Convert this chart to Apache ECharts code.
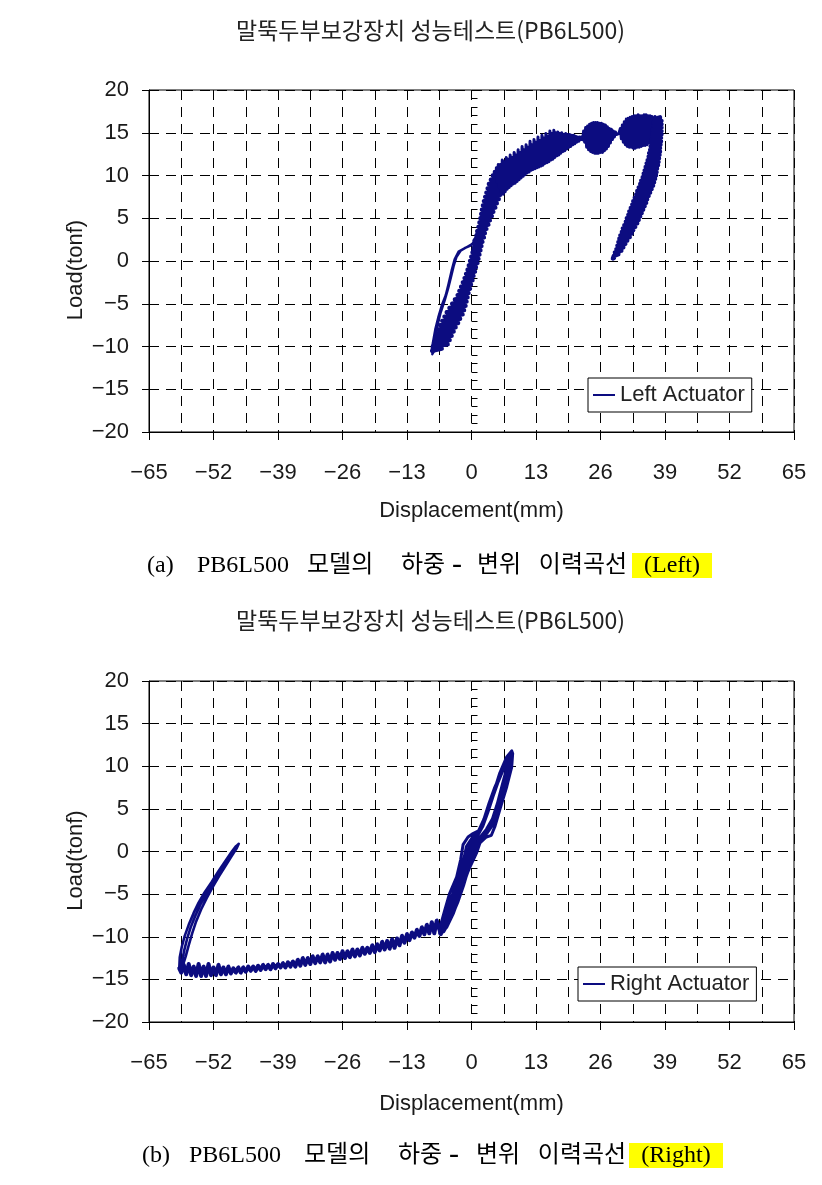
<!DOCTYPE html>
<html><head><meta charset="utf-8">
<script src="https://cdn.jsdelivr.net/npm/echarts@6/dist/echarts.min.js"></script>
<style>html,body{margin:0;padding:0;background:#fff}#c{width:822px;height:1185px}</style>
</head><body><div id="c"></div>
<script>
// ---- axis ticks ----
const dispTicks = [-65,-52,-39,-26,-13,0,13,26,39,52,65];
const loadTicks = [-20,-15,-10,-5,0,5,10,15,20];
const chartTitle = '말뚝두부보강장치 성능테스트(PB6L500)';
const dispName = 'Displacement(mm)';
const loadName = 'Load(tonf)';
const leftName = 'Left Actuator';
const rightName = 'Right Actuator';

// ---- Left actuator: [displacement mm, load tonf] ----
const leftLoopPaths = [
[0.0,0.0],[-0.8,-1.8],[-1.8,-3.8],[-3.3,-5.9],[-5.0,-7.9],[-6.6,-9.6],[-7.8,-10.7],
[-8.0,-10.3],[-7.7,-9.3],[-7.3,-8.0],[-6.7,-6.6],[-6.0,-5.2],[-5.2,-4.0],[-4.6,-2.6],[-4.0,-1.1],[-3.4,0.2],[-2.6,1.1],[-1.4,1.5],[-0.2,1.8],[0.8,2.4],[1.4,3.4],[1.8,4.2],
[1.2,2.6],[0.6,1.4],[0.0,0.2],[-1.0,-1.6],[-2.2,-3.6],[-3.8,-5.6],[-5.6,-7.8],[-7.0,-9.6],[-7.9,-10.8],
[-7.6,-10.0],[-7.3,-8.8],[-6.8,-7.4],[-6.2,-6.0],[-5.4,-4.6],[-4.7,-3.2],[-4.1,-1.8],[-3.6,-0.6],[-3.0,0.5],[-2.2,1.2],[-1.0,1.6],[0.2,2.0],[0.9,2.8],[1.2,3.6],
[0.6,2.2],[0.1,1.0],[0.8,1.2],[1.7,2.3],[1.0,2.9],[0.4,2.4],
[1.2,2.0],[0.2,-0.2],[-0.8,-2.2],[-2.2,-4.4],[-4.0,-6.6],[-5.8,-8.6],[-7.2,-10.2],[-7.9,-10.9]
];
const leftLowerBand = [
[-7.95,-10.5],[-6.0,-10.25],[-7.8,-10.0],[-4.8,-9.75],[-7.55,-9.5],[-4.4,-9.25],[-7.3,-9.0],[-4.0,-8.75],[-7.05,-8.5],[-3.6,-8.25],[-6.8,-8.0],[-3.2,-7.75],[-6.35,-7.5],[-2.7,-7.25],[-5.9,-7.0],[-2.3,-6.75],[-5.45,-6.5],[-1.8,-6.25],[-5.0,-6.0],[-1.5,-5.75],[-4.45,-5.5],[-1.2,-5.25],[-3.9,-5.0],[-1.0,-4.75],[-3.35,-4.5],[-0.8,-4.25],[-2.8,-4.0],[-0.6,-3.75],[-2.45,-3.5],[-0.3,-3.25],[-2.1,-3.0],[-0.1,-2.75],[-1.75,-2.5],[0.2,-2.25],[-1.4,-2.0],[0.4,-1.75],[-1.1,-1.5],[0.7,-1.25],[-0.8,-1.0],[0.9,-0.75],[-0.55,-0.5],[1.2,-0.25],[-0.3,0.0],[1.4,0.25],[-0.05,0.5],[1.6,0.75],[0.2,1.0],[1.8,1.25],[0.45,1.5],[2.0,1.75],[0.7,2.0],[2.2,2.25],[0.85,2.5],[2.5,2.75],[1.0,3.0],[2.7,3.25],[1.15,3.5],[3.0,3.75]
];
const leftRisingBand = [
[1.4,4.0],[3.4,4.25],[1.6,4.5],[3.7,4.75],[1.8,5.0],[4.1,5.25],[1.95,5.5],[4.4,5.75],[2.1,6.0],[4.8,6.25],[2.3,6.5],[5.1,6.75],[2.5,7.0],[5.5,7.25],[2.75,7.5],[5.8,7.75],[3.0,8.0],[6.2,8.25],[3.25,8.5],[6.5,8.75],[3.5,9.0],[6.8,9.25],[3.9,9.5],[7.2,9.75],[4.3,10.0],[7.6,10.25],[4.7,10.4]
];
const leftUpperBand = [
[5.0,10.9],[5.2,9.2],[5.4,11.3],[5.6,8.6],[5.8,11.3],[6.0,8.0],[6.2,11.8],[6.4,7.8],[6.6,11.6],[6.8,8.1],[7.0,12.1],[7.2,8.4],[7.4,11.9],[7.6,8.6],[7.8,12.4],[8.0,8.8],[8.2,12.1],[8.4,9.0],[8.6,12.7],[8.8,9.1],[9.0,12.4],[9.2,9.3],[9.4,13.0],[9.6,9.5],[9.8,12.7],[10.0,9.7],[10.2,13.4],[10.4,9.9],[10.6,13.0],[10.8,10.1],[11.0,13.6],[11.2,10.3],[11.4,13.3],[11.6,10.4],[11.8,14.0],[12.0,10.6],[12.2,13.6],[12.4,10.7],[12.6,14.2],[12.8,10.8],[13.0,13.9],[13.2,10.9],[13.4,14.5],[13.6,11.0],[13.8,14.1],[14.0,11.1],[14.2,14.7],[14.4,11.2],[14.6,14.4],[14.8,11.4],[15.0,14.9],[15.2,11.5],[15.4,14.6],[15.6,11.6],[15.8,15.2],[16.0,11.8],[16.2,14.9],[16.4,11.9],[16.6,15.3],[16.8,12.1],[17.0,15.0],[17.2,12.3],[17.4,15.1],[17.6,12.4],[17.8,14.9],[18.0,12.6],[18.2,15.0],[18.4,12.8],[18.6,14.8],[18.8,12.9],[19.0,14.9],[19.2,13.1],[19.4,14.8],[19.6,13.3],[19.8,14.8],[20.0,13.4],[20.2,14.7],[20.4,13.6],[20.6,14.7],[20.8,13.7],[21.0,14.6],[21.2,13.9],[21.4,14.5],[21.6,14.0],[21.8,14.5],[22.0,14.2],[22.2,14.5],[22.4,14.2]
];
const leftPeakBlobs = [
[22.6,15.2],[22.8,13.9],[23.0,15.6],[23.2,13.3],[23.4,15.8],[23.6,13.0],[23.8,16.0],[24.0,12.8],[24.2,16.1],[24.4,12.7],[24.6,16.2],[24.8,12.6],[25.0,16.2],[25.2,12.6],[25.4,16.2],[25.6,12.6],[25.8,16.1],[26.0,12.7],[26.2,16.1],[26.4,12.7],[26.6,16.0],[26.8,12.9],[27.0,15.9],[27.2,13.1],[27.4,15.7],[27.6,13.4],[27.8,15.5],[28.0,13.8],[28.2,15.4],[28.4,14.2],[28.6,15.2],[28.8,14.5],[29.0,15.1],[29.2,14.8],[29.5,15.0],[29.7,14.9],
[30.0,15.5],[30.2,14.3],[30.4,15.9],[30.6,13.9],[30.8,16.3],[31.0,13.6],[31.2,16.6],[31.4,13.4],[31.6,16.7],[31.8,13.3],[32.0,16.8],[32.2,13.3],[32.4,16.9],[32.6,13.2],[32.8,17.0],[33.0,13.2],[33.2,17.0],[33.4,13.3],[33.6,17.1],[33.8,13.3],[34.0,17.0],[34.2,13.4],[34.4,17.0],[34.6,13.5],[34.8,17.1],[35.0,13.5],[35.2,17.1],[35.4,13.6],[35.6,17.0],[35.8,13.8],[36.0,17.0],[36.2,14.0],[36.4,16.9],[36.6,14.4],[37.0,16.9]
];
const leftUnloadBand = [
[38.0,16.8],[36.8,16.6],[38.3,16.4],[36.7,16.2],[38.3,16.0],[36.6,15.8],[38.3,15.6],[36.5,15.4],[38.3,15.2],[36.5,15.0],[38.3,14.8],[36.4,14.6],[38.2,14.4],[36.3,14.2],[38.2,14.0],[36.2,13.8],[38.1,13.6],[36.1,13.4],[38.0,13.2],[36.0,13.0],[38.0,12.8],[35.8,12.6],[37.9,12.4],[35.7,12.2],[37.8,12.0],[35.5,11.8],[37.7,11.6],[35.3,11.4],[37.6,11.2],[35.1,11.0],[37.4,10.8],[34.9,10.6],[37.3,10.4],[34.7,10.2],[37.2,10.0],[34.5,9.8],[37.0,9.6],[34.2,9.4],[36.8,9.2],[34.0,9.0],[36.6,8.8],[33.7,8.6],[36.3,8.4],[33.4,8.2],[36.0,8.0],[33.2,7.8],[35.7,7.6],[32.9,7.4],[35.4,7.2],[32.6,7.0],[35.2,6.8],[32.4,6.6],[34.9,6.4],[32.1,6.2],[34.6,6.0],[31.8,5.8],[34.3,5.6],[31.6,5.4],[34.0,5.2],[31.3,5.0],[33.7,4.8],[31.1,4.6],[33.4,4.4],[30.8,4.2],[33.0,4.0],[30.5,3.8],[32.6,3.6],[30.3,3.4],[32.3,3.2],[30.0,3.0],[31.9,2.8],[29.8,2.6],[31.4,2.4],[29.6,2.2],[31.0,2.0],[29.4,1.8],[30.6,1.6],[29.2,1.4],[30.2,1.2],[28.9,1.0],[29.6,0.8],[28.7,0.6],[29.0,0.4],[28.5,0.3],[28.7,0.35]
];

// ---- Right actuator ----
const rightLoopPaths = [
[-6.1,-9.6],[-5.4,-9.2],[-4.0,-7.6],[-2.7,-5.7],[-1.4,-3.3],[-0.3,-1.8],[1.0,-0.2],[1.7,1.0],[3.0,1.7],[4.0,1.9],[4.7,2.9],[5.7,4.9],[7.1,7.6],[8.1,9.9],[8.3,11.5],[8.1,11.8],
[7.1,11.1],[5.7,9.2],[4.4,6.8],[3.0,4.5],[1.7,2.5],[0.3,2.1],[-0.7,1.7],[-1.7,0.8],[-2.2,-1.0],[-3.0,-3.0],[-4.4,-4.9],[-5.4,-6.9],[-6.3,-8.8],[-6.4,-9.6],
[-6.0,-9.4],[-5.0,-7.0],[-3.8,-5.0],[-2.5,-3.0],[-1.6,-1.0],[-1.0,0.6],[0.0,1.5],[1.4,2.4],[2.5,3.8],[3.5,5.6],[4.6,7.4],[5.8,9.0],[7.0,10.6],[7.9,11.6],
[7.9,11.0],[7.5,9.6],[6.6,7.4],[5.4,5.0],[4.4,3.2],[3.2,2.2],[2.0,1.4],[1.0,0.4],[0.0,-1.2],[-1.1,-3.0],[-2.2,-5.0],[-3.5,-7.0],[-5.0,-8.8],[-6.0,-9.5],
[-5.6,-9.0],[-4.6,-7.0],[-3.4,-5.0],[-2.2,-3.0],[-1.2,-1.0],[-0.4,0.5],[0.6,1.6],[1.8,2.6],[2.9,4.1],[3.9,5.9],[5.0,7.7],[6.2,9.3],[7.3,10.8],[8.0,11.7],
[7.6,10.6],[6.8,8.4],[5.8,6.2],[4.9,4.2],[3.9,2.8],[2.6,2.0],[1.4,1.1],[0.4,-0.3],[-0.6,-2.0],[-1.6,-4.0],[-2.8,-6.0],[-4.2,-7.9],[-5.6,-9.4],
[-5.2,-9.0],[-4.2,-7.2],[-3.0,-5.2],[-1.8,-3.0],[-0.8,-1.0],[0.2,0.6],[1.2,1.8],[2.3,3.0],[3.3,4.6],[4.3,6.4],[5.4,8.2],[6.6,9.9],[7.6,11.3],
[7.3,10.2],[6.2,7.8],[5.2,5.6],[4.2,3.8],[3.0,2.6],[1.6,1.6],[0.6,0.4],[-0.3,-1.2],[-1.3,-3.2],[-2.4,-5.2],[-3.6,-7.2],[-5.0,-8.9],[-6.2,-9.7]
];
const rightBottomBand = [
[-6.2,-9.7],[-7.0,-8.1],[-7.5,-9.6],[-8.0,-8.3],[-8.5,-9.6],[-9.0,-8.6],[-9.5,-9.7],[-10.0,-8.9],[-10.5,-9.9],[-11.0,-9.2],[-11.5,-10.1],[-12.0,-9.5],[-12.5,-10.4],[-13.0,-9.7],[-13.5,-10.7],[-14.0,-9.9],[-14.5,-11.0],[-15.0,-10.2],[-15.5,-11.3],[-16.0,-10.3],[-16.5,-11.4],[-17.0,-10.5],[-17.5,-11.5],[-18.0,-10.6],[-18.5,-11.6],[-19.0,-10.9],[-19.5,-11.8],[-20.0,-11.0],[-20.5,-11.9],[-21.0,-11.3],[-21.5,-12.0],[-22.0,-11.3],[-22.5,-12.2],[-23.0,-11.5],[-23.5,-12.3],[-24.0,-11.5],[-24.5,-12.4],[-25.0,-11.7],[-25.5,-12.5],[-26.0,-11.7],[-26.5,-12.6],[-27.0,-11.9],[-27.5,-12.7],[-28.0,-11.9],[-28.5,-12.9],[-29.0,-12.1],[-29.5,-13.0],[-30.0,-12.1],[-30.5,-13.0],[-31.0,-12.3],[-31.5,-13.1],[-32.0,-12.3],[-32.5,-13.2],[-33.0,-12.5],[-33.5,-13.3],[-34.0,-12.5],[-34.5,-13.4],[-35.0,-12.7],[-35.5,-13.5],[-36.0,-12.9],[-36.5,-13.5],[-37.0,-13.0],[-37.5,-13.6],[-38.0,-13.1],[-38.5,-13.6],[-39.0,-13.2],[-39.5,-13.7],[-40.0,-13.2],[-40.5,-13.8],[-41.0,-13.3],[-41.5,-13.8],[-42.0,-13.3],[-42.5,-13.9],[-43.0,-13.4],[-43.5,-14.0],[-44.0,-13.5],[-44.5,-14.0],[-45.0,-13.5],[-45.5,-14.1],[-46.0,-13.6],[-46.5,-14.2],[-47.0,-13.6],[-47.5,-14.2],[-48.0,-13.7],[-48.5,-14.3],[-49.0,-13.5],[-49.5,-14.4],[-50.0,-13.6],[-50.5,-14.4],[-51.0,-13.3],[-51.5,-14.5],[-52.0,-13.6],[-52.5,-14.5],[-53.0,-13.2],[-53.5,-14.6],[-54.0,-13.5],[-54.5,-14.6],[-55.0,-13.2],[-55.5,-14.6],[-56.0,-13.5],[-56.5,-14.5],[-57.0,-13.2],[-57.5,-14.4],[-58.0,-13.3],[-58.5,-14.2],[-58.9,-13.7]
];
const rightRisingLine = [
[-58.9,-13.7],[-58.8,-12.4],[-58.4,-11.2],[-57.8,-9.9],[-57.0,-8.6],[-56.0,-7.2],[-55.0,-6.0],[-53.8,-4.8],[-52.4,-3.6],[-51.0,-2.3],[-49.6,-1.1],[-48.3,0.0],[-47.5,0.6],[-47.0,0.8],
[-47.3,0.4],[-48.4,-0.6],[-49.6,-1.7],[-50.9,-2.9],[-52.2,-4.2],[-53.4,-5.5],[-54.5,-6.8],[-55.5,-8.2],[-56.3,-9.6],[-57.0,-11.0],[-57.6,-12.3],[-58.2,-13.4],[-58.6,-14.0],
[-58.4,-13.0],[-57.9,-11.6],[-57.3,-10.2],[-56.6,-8.9],[-55.7,-7.6],[-54.7,-6.3],[-53.6,-5.1],[-52.3,-3.9],[-51.0,-2.6],[-49.6,-1.4],[-48.4,-0.3],[-47.6,0.5],[-47.1,0.8],[-46.9,0.9]
];

const leftRiseData = [].concat(leftLowerBand, leftRisingBand);
const leftTopData = [].concat(leftUpperBand, leftPeakBlobs);

// ---- styling ----
const NAVY = '#0c0c80';
const INK = '#1a1a1a';
const SANS = "'Liberation Sans', Arial, sans-serif";
const KOR = "'Noto Sans CJK KR', sans-serif";
const SERIF = "'Liberation Serif', 'Noto Sans CJK KR', serif";
const dash = [10, 7];
const fmt = v => (v < 0 ? '\u2212' + Math.abs(v) : String(v));

function xAxisFor(gi, gap) {
  return {
    type: 'value', gridIndex: gi,
    min: dispTicks[0], max: dispTicks[dispTicks.length - 1], interval: dispTicks[1] - dispTicks[0],
    name: dispName, nameLocation: 'middle', nameGap: gap, nameMoveOverlap: false,
    nameTextStyle: { fontFamily: SANS, fontSize: 22, color: INK },
    axisLine: { show: true, onZero: false, lineStyle: { color: '#000', width: 1 } },
    axisTick: { show: true, inside: false, length: 8, lineStyle: { color: '#000' } },
    axisLabel: { show: true, margin: 30, fontFamily: SANS, fontSize: 22, color: INK, formatter: fmt },
    splitLine: { show: true, lineStyle: { color: '#000', width: 1, type: dash } },
    minorTick: { show: false, splitNumber: 2 },
    minorSplitLine: { show: true, lineStyle: { color: '#000', width: 1, type: dash } }
  };
}
function yAxesFor(gi) {
  return [{
    type: 'value', gridIndex: gi, position: 'left',
    min: loadTicks[0], max: loadTicks[loadTicks.length - 1], interval: loadTicks[1] - loadTicks[0],
    name: loadName, nameLocation: 'middle', nameGap: 62, nameMoveOverlap: false,
    nameTextStyle: { fontFamily: SANS, fontSize: 22, color: INK, padding: [0, 18, 0, 0] },
    axisLine: { show: true, onZero: false, lineStyle: { color: '#000', width: 1 } },
    axisTick: { show: true, inside: false, length: 7, lineStyle: { color: '#000' } },
    axisLabel: { show: true, margin: 20, fontFamily: SANS, fontSize: 22, color: INK, formatter: fmt },
    splitLine: { show: true, lineStyle: { color: '#000', width: 1, type: dash } }
  }, {
    type: 'value', gridIndex: gi, position: 'left', offset: 0,
    min: loadTicks[0], max: loadTicks[loadTicks.length - 1], interval: 1,
    axisLine: { show: false }, axisLabel: { show: false }, splitLine: { show: false },
    axisTick: { show: true, inside: true, length: 6, lineStyle: { color: '#000' } }
  }];
}
function captionRich(w) {
  const base = { fontFamily: SERIF, fontSize: 24, fontWeight: 'normal', color: '#000', lineHeight: 25, height: 25, align: 'left' };
  const keys = ['s1','s2','s3','s4','s5','s6','s7','hl'];
  const r = {};
  keys.forEach((k, i) => { r[k] = Object.assign({}, base, { width: w[i] }); });
  r.s5.align = 'center';
  r.s5.fontSize = 30;
  r.hl.align = 'center';
  r.hl.backgroundColor = '#ffff00';
  return r;
}
function legendFor(name, left, top) {
  return {
    data: [name], left: left, top: top, orient: 'horizontal',
    backgroundColor: '#fff', borderColor: '#000', borderWidth: 1, borderRadius: 0,
    padding: [6, 7, 6, 5], itemWidth: 22, itemHeight: 2, icon: 'rect',
    textStyle: { fontFamily: SANS, fontSize: 22, color: '#222' },
    selectedMode: false
  };
}
function lineSeries(name, xi, yi, data, w) {
  return { name: name, type: 'line', xAxisIndex: xi, yAxisIndex: yi, data: data, showSymbol: false, symbol: 'none',
    lineStyle: { color: NAVY, width: w, join: 'round', cap: 'round' }, itemStyle: { color: NAVY }, clip: true, z: 3 };
}

const chart = echarts.init(document.getElementById('c'), null, { renderer: 'canvas' });
chart.setOption({
  animation: false,
  backgroundColor: '#fff',
  title: [
    { text: chartTitle, left: 236, top: 19, padding: 0, textStyle: { fontFamily: KOR, fontSize: 23, fontWeight: 'normal', color: '#222' } },
    { text: chartTitle, left: 236, top: 609, padding: 0, textStyle: { fontFamily: KOR, fontSize: 23, fontWeight: 'normal', color: '#222' } },
    { text: '{s1|(a)}{s2|PB6L500}{s3|모델의}{s4|하중}{s5|-}{s6|변위}{s7|이력곡선}{hl|(Left)}', left: 147, top: 553, padding: 0,
      textStyle: { fontWeight: 'normal', rich: captionRich([50, 110, 94, 49, 14, 70, 98, 80]) } },
    { text: '{s1|(b)}{s2|PB6L500}{s3|모델의}{s4|하중}{s5|-}{s6|변위}{s7|이력곡선}{hl|(Right)}', left: 142, top: 1143, padding: 0,
      textStyle: { fontWeight: 'normal', rich: captionRich([47, 115, 94, 49, 14, 74, 94, 94]) } }
  ],
  legend: [legendFor(leftName, 588, 378), legendFor(rightName, 578, 967)],
  grid: [
    { left: 149, top: 90, width: 645, height: 342, show: true, borderColor: '#000', borderWidth: 1, backgroundColor: 'transparent', outerBoundsMode: 'none' },
    { left: 149, top: 681, width: 645, height: 341, show: true, borderColor: '#000', borderWidth: 1, backgroundColor: 'transparent', outerBoundsMode: 'none' }
  ],
  xAxis: [xAxisFor(0, 68), xAxisFor(1, 71)],
  yAxis: [].concat(yAxesFor(0), yAxesFor(1)),
  series: [
    lineSeries(leftName, 0, 0, leftLoopPaths, 2.4),
    lineSeries(leftName, 0, 0, leftRiseData, 4.4),
    lineSeries(leftName, 0, 0, leftTopData, 3.0),
    lineSeries(leftName, 0, 0, leftUnloadBand, 4.4),
    lineSeries(rightName, 1, 2, rightLoopPaths, 3.0),
    lineSeries(rightName, 1, 2, rightBottomBand, 4.0),
    lineSeries(rightName, 1, 2, rightRisingLine, 2.6)
  ]
});
</script>
</body></html>
